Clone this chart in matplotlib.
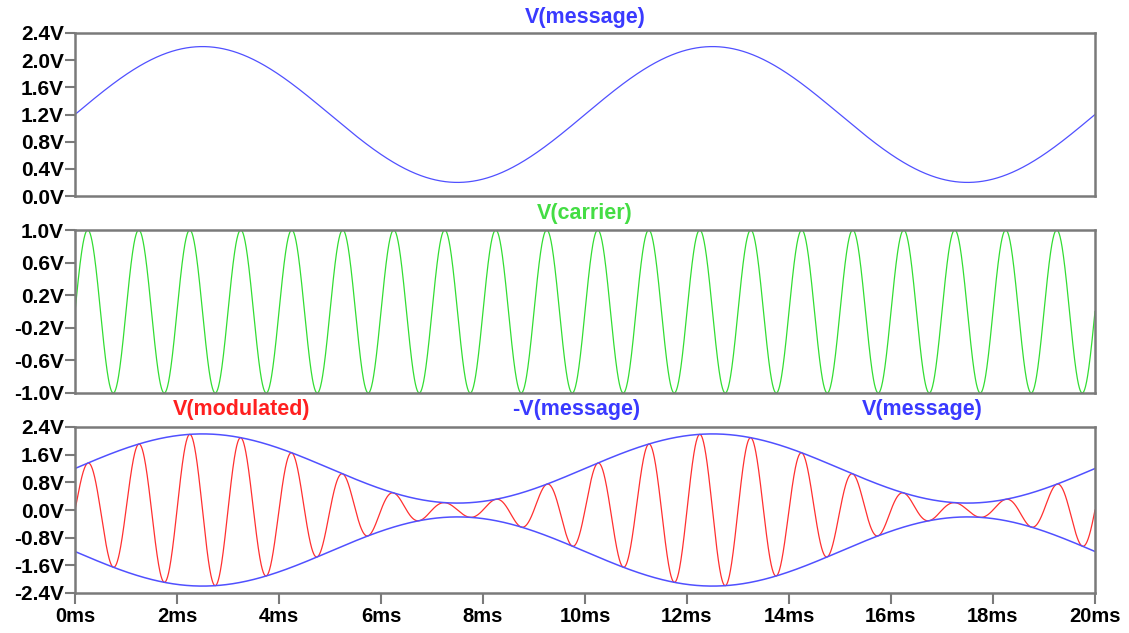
import numpy as np
import matplotlib.pyplot as plt

# signal parameters
msg_offset = 1.2      # V
msg_amp = 1.0         # V
msg_freq = 100.0      # Hz (10 ms period)
car_amp = 1.0         # V
car_freq = 1000.0     # Hz (20 cycles in 20 ms)
t_stop = 20e-3        # s

x_ticks_ms = [0, 2, 4, 6, 8, 10, 12, 14, 16, 18, 20]
y_ticks_msg = [0.0, 0.4, 0.8, 1.2, 1.6, 2.0, 2.4]
y_ticks_car = [-1.0, -0.6, -0.2, 0.2, 0.6, 1.0]
y_ticks_mod = [-2.4, -1.6, -0.8, 0.0, 0.8, 1.6, 2.4]

t = np.linspace(0, t_stop, 4001)
v_message = msg_offset + msg_amp * np.sin(2 * np.pi * msg_freq * t)
v_carrier = car_amp * np.sin(2 * np.pi * car_freq * t)
v_modulated = v_message * v_carrier

BLUE = "#5050ff"
GREEN = "#33dd33"
RED = "#ff3030"
FRAME = "#7a7a7a"

plt.rcParams["font.family"] = ["Liberation Sans", "DejaVu Sans"]
plt.rcParams["font.weight"] = "bold"

fig = plt.figure(figsize=(11.29, 6.33), dpi=100)
W, H = 1129, 633


def make_axes(top, bottom):
    ax = fig.add_axes([75 / W, 1 - bottom / H, 1020 / W, (bottom - top) / H])
    for s in ax.spines.values():
        s.set_color(FRAME)
        s.set_linewidth(1.8)
    ax.tick_params(axis="y", direction="out", length=7, width=1.5, color=FRAME,
                   labelsize=15, pad=1)
    ax.tick_params(axis="x", direction="out", length=8, width=1.5, color=FRAME,
                   labelsize=14.5, pad=2)
    ax.set_xlim(0, t_stop * 1e3)
    ax.set_xticks(x_ticks_ms)
    return ax


def fmt_v(vals):
    return [f"{v:.1f}V" for v in vals]


ax1 = make_axes(33, 196)
ax1.plot(t * 1e3, v_message, color=BLUE, lw=0.9)
ax1.set_ylim(0, 2.4)
ax1.set_yticks(y_ticks_msg)
ax1.set_yticklabels(fmt_v(y_ticks_msg))
ax1.tick_params(axis="x", bottom=False, labelbottom=False)

ax2 = make_axes(230, 393)
ax2.plot(t * 1e3, v_carrier, color=GREEN, lw=0.9)
ax2.set_ylim(-1.0, 1.0)
ax2.set_yticks(y_ticks_car)
ax2.set_yticklabels(fmt_v(y_ticks_car))
ax2.tick_params(axis="x", bottom=False, labelbottom=False)

ax3 = make_axes(427, 593)
ax3.plot(t * 1e3, v_modulated, color=RED, lw=0.9)
ax3.plot(t * 1e3, -v_message, color=BLUE, lw=1.1)
ax3.plot(t * 1e3, v_message, color=BLUE, lw=1.1)
ax3.set_ylim(-2.4, 2.4)
ax3.set_yticks(y_ticks_mod)
ax3.set_yticklabels(fmt_v(y_ticks_mod))
ax3.set_xticklabels([f"{v}ms" for v in x_ticks_ms])

title_kw = dict(fontsize=15.5, fontweight="bold", ha="center", va="center")
fig.text(585 / W, 1 - 17 / H, "V(message)", color="#3a3aff", **title_kw)
fig.text(585 / W, 1 - 213 / H, "V(carrier)", color="#44dd44", **title_kw)
fig.text(242 / W, 1 - 410 / H, "V(modulated)", color="#ff2020", **title_kw)
fig.text(576 / W, 1 - 410 / H, "-V(message)", color="#3a3aff", **title_kw)
fig.text(922 / W, 1 - 410 / H, "V(message)", color="#3a3aff", **title_kw)

fig.savefig("out.png", dpi=100)
